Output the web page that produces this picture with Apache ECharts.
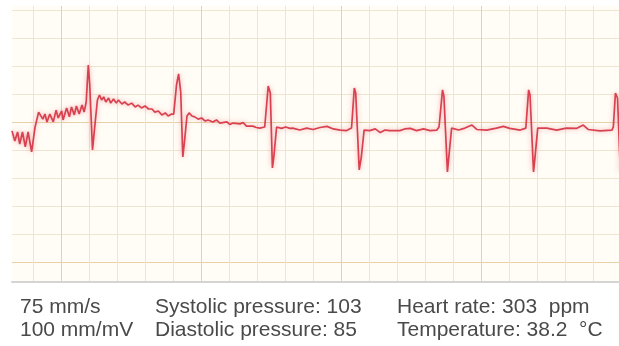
<!DOCTYPE html>
<html>
<head>
<meta charset="utf-8">
<script src="https://cdn.jsdelivr.net/npm/echarts@6/dist/echarts.min.js"></script>
<style>
html,body{margin:0;padding:0;background:#fff;}
#main{width:619px;height:346px;}
</style>
</head>
<body>
<div id="main"></div>
<script>
// ECG trace: time (ms) and voltage (mV)
var timeMs = [130,134,138,141,145,149,153,158,163,168,
  170,174,177,180,184,189,193,196,201,203,208,212,215,219,222,226,230,233,
  236,239,241,245,248,252,255,258,261,264,268,271,275,279,282,287,291,296,301,306,310,315,320,325,330,334,339,344,349,353,358,361,
  365,368,371,374,376,380,383,387,391,396,401,406,410,417,422,427,437,441,446,456,460,465,474,479,484,491,
  496,499,502,504,508,515,521,527,531,541,551,560,570,580,589,599,608,615,
  619,621,626,629,633,641,649,656,663,670,684,691,699,708,718,727,737,740,
  745,747,752,754,758,768,777,787,794,808,822,832,841,856,864,
  868,870,875,877,881,894,908,922,937,946,953,970,987,989,
  992,995,999];
var voltageMv = [-0.031,-0.067,-0.035,-0.078,-0.035,-0.088,-0.035,-0.106,-0.017,0.036,
  0.033,0.011,0.029,0.001,0.029,0.001,0.043,0.015,0.040,0.008,0.051,0.019,0.054,0.026,0.058,0.029,0.061,0.036,
  0.072,0.204,0.136,-0.099,-0.021,0.079,0.097,0.079,0.090,0.072,0.086,0.068,0.083,0.068,0.079,0.065,0.072,0.061,0.068,0.054,0.061,0.051,0.058,0.047,0.047,0.036,0.040,0.026,0.033,0.022,0.029,0.029,
  0.133,0.172,0.108,-0.124,-0.078,0.022,0.033,0.022,0.019,0.011,0.015,0.004,0.008,0.001,0.008,-0.003,0.001,-0.008,-0.003,-0.006,-0.001,-0.014,-0.014,-0.019,-0.021,-0.017,
  0.129,0.104,-0.163,-0.124,-0.017,-0.022,-0.017,-0.022,-0.021,-0.028,-0.021,-0.026,-0.019,-0.015,-0.024,-0.028,-0.030,-0.021,
  0.122,0.104,-0.170,-0.124,-0.028,-0.030,-0.024,-0.037,-0.028,-0.030,-0.030,-0.024,-0.022,-0.030,-0.024,-0.030,-0.028,-0.017,
  0.115,0.092,-0.177,-0.124,-0.021,-0.028,-0.021,-0.010,-0.026,-0.028,-0.021,-0.015,-0.022,-0.028,-0.021,
  0.115,0.097,-0.177,-0.128,-0.021,-0.021,-0.028,-0.021,-0.022,-0.010,-0.026,-0.031,-0.028,-0.017,
  0.104,0.086,-0.177];

var infoCol1 = ['75 mm/s', '100 mm/mV'];
var infoCol2 = ['Systolic pressure: 103', 'Diastolic pressure: 85'];
var infoCol3 = ['Heart rate: 303  ppm', 'Temperature: 38.2  \u00B0C'];

var ecgData = timeMs.map(function (t, i) { return [t, voltageMv[i]]; });

var X_MIN = 130, X_MAX = 997.1;
var Y_MIN = -0.5695, Y_MAX = 0.4141;
var MINOR = '#f0e4d2', MAJOR = '#e6d1a8';

var chart = echarts.init(document.getElementById('main'), null, {renderer: 'canvas'});

function xAx(step, color, showLine) {
  return {
    type: 'value', min: X_MIN, max: X_MAX, position: 'bottom',
    minInterval: step, maxInterval: step, splitNumber: 20,
    axisLabel: {show: false}, axisTick: {show: false},
    axisLine: {show: showLine, onZero: false, lineStyle: {color: '#d4d4d4', width: 2}},
    splitLine: {show: true, showMinLine: false, showMaxLine: false, lineStyle: {color: color, width: 1}}
  };
}
function yAx(step, color) {
  return {
    type: 'value', min: Y_MIN, max: Y_MAX,
    minInterval: step, maxInterval: step, splitNumber: 10,
    axisLabel: {show: false}, axisTick: {show: false}, axisLine: {show: false},
    splitLine: {show: true, showMinLine: false, showMaxLine: false, lineStyle: {color: color, width: 1}}
  };
}

var textStyleBase = {fontFamily: '"Liberation Sans", Arial, sans-serif', fontSize: 21, fill: '#4a4a4a', textVerticalAlign: 'middle'};
var rowsY = [307, 330];
var graphics = [];
[[infoCol1, 20], [infoCol2, 155], [infoCol3, 397]].forEach(function (c) {
  c[0].forEach(function (s, i) { graphics.push({type: 'text', x: c[1], y: rowsY[i], style: Object.assign({text: s}, textStyleBase)}); });
});

chart.setOption({
  animation: false,
  backgroundColor: '#ffffff',
  grid: {left: 12, right: 0, top: 6, bottom: 64, show: true, backgroundColor: '#fffdf6', borderWidth: 0},
  xAxis: [xAx(40, MINOR, false), xAx(200, MAJOR, true)],
  yAxis: [yAx(0.1, MINOR), yAx(0.5, MAJOR)],
  series: [{
    type: 'line', data: ecgData, xAxisIndex: 0, yAxisIndex: 0,
    showSymbol: false, symbol: 'none', smooth: false,
    lineStyle: {color: '#d8414f', width: 1.7, shadowBlur: 5, shadowColor: 'rgba(235,110,120,0.6)'}
  }],
  graphic: graphics
});
</script>
</body>
</html>
